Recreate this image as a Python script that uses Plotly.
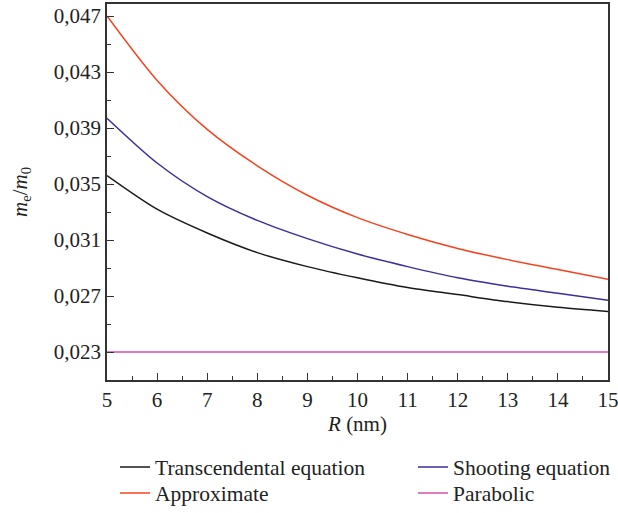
import plotly.graph_objects as go

R = [5, 6, 7, 8, 9, 10, 11, 12, 13, 14, 15]
transcendental = [0.0356, 0.0332, 0.0315, 0.0301, 0.0291, 0.0283, 0.0276, 0.0271, 0.0266, 0.0262, 0.0259]
shooting = [0.0397, 0.0365, 0.0341, 0.0324, 0.0311, 0.0300, 0.0291, 0.0283, 0.0277, 0.0272, 0.0267]
approximate = [0.0470, 0.0424, 0.0389, 0.0363, 0.0342, 0.0326, 0.0314, 0.0304, 0.0296, 0.0289, 0.0282]
parabolic = [0.0230] * len(R)

y_ticks = [0.023, 0.027, 0.031, 0.035, 0.039, 0.043, 0.047]
x_ticks = [5, 6, 7, 8, 9, 10, 11, 12, 13, 14, 15]

FONT = "Liberation Serif"
TXT = "#222222"

fig = go.Figure()
series = [
    ("Transcendental equation", transcendental, "#1a1a1a", "legend"),
    ("Shooting equation", shooting, "#3b2e9e", "legend2"),
    ("Approximate", approximate, "#f4431f", "legend3"),
    ("Parabolic", parabolic, "#d44fae", "legend4"),
]
for name, vals, col, lg in series:
    fig.add_trace(go.Scatter(x=R, y=vals, name=name, mode="lines", legend=lg,
                             line=dict(color=col, width=1.5, shape="spline", smoothing=0.8)))

axis_common = dict(showline=True, linecolor="#333333", linewidth=1.5, mirror=True,
                   ticks="inside", ticklen=7, tickwidth=1.2, tickcolor="#333333",
                   showgrid=False, zeroline=False, ticklabeloverflow="allow",
                   tickfont=dict(family=FONT, size=21, color=TXT))

fig.update_xaxes(range=[5, 15], tickvals=x_ticks,
                 minor=dict(dtick=0.5, tick0=5, ticks="inside", ticklen=4, tickcolor="#333333", tickwidth=1),
                 title=dict(text="<i>R</i> (nm)", font=dict(family=FONT, size=21, color=TXT), standoff=2),
                 **axis_common)
fig.update_yaxes(range=[0.021, 0.04786], tickvals=y_ticks, tickformat=".3f",
                 minor=dict(dtick=0.002, tick0=0.021, ticks="inside", ticklen=4, tickcolor="#333333", tickwidth=1),
                 **axis_common)

fig.add_annotation(text="<i>m</i><sub>e</sub>/<i>m</i><sub>0</sub>", textangle=-90,
                   xref="paper", yref="paper", x=(21 - 107) / 501, y=0.5,
                   xanchor="center", yanchor="middle", showarrow=False,
                   font=dict(family=FONT, size=21, color=TXT))

def leg(x, y):
    return dict(x=x, y=y, xref="container", yref="container", xanchor="left", yanchor="middle",
                orientation="v", bgcolor="rgba(0,0,0,0)",
                font=dict(family=FONT, size=21.5, color=TXT), itemwidth=30)

row1 = 1 - 467 / 513
row2 = 1 - 493 / 513
col1 = 115 / 618
col2 = 413 / 618

fig.update_layout(
    width=618, height=513,
    margin=dict(l=107, r=10, t=4, b=133, autoexpand=False),
    paper_bgcolor="white", plot_bgcolor="white",
    separators=",.",
    font=dict(family=FONT, size=21, color=TXT),
    legend=leg(col1, row1),
    legend2=leg(col2, row1),
    legend3=leg(col1, row2),
    legend4=leg(col2, row2),
    showlegend=True,
)

fig.write_html("out.html")
